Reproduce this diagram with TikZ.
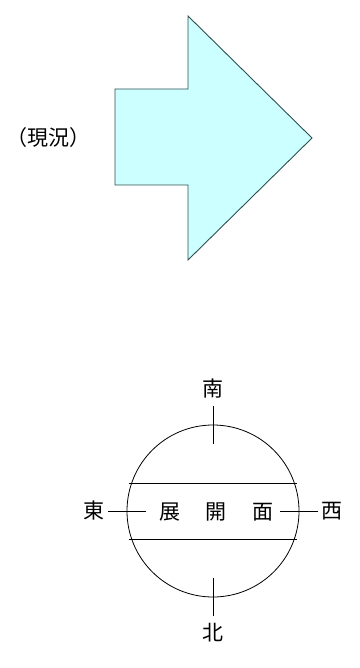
\documentclass[tikz,border=0pt]{standalone}
\usepackage{fontspec}
\newfontfamily\cjk{Noto Sans CJK JP}
\definecolor{arrowfill}{HTML}{CCFFFF}
\definecolor{arrowline}{HTML}{2F4F4F}
\begin{document}
\begin{tikzpicture}[x=1pt,y=-1pt,
  lbl/.style={font=\cjk\fontsize{21}{21}\selectfont, inner sep=0pt},
  ln/.style={draw=black, line width=0.8pt}]
\useasboundingbox (0,0) rectangle (359,668);
% arrow
\draw[fill=arrowfill, draw=arrowline, line width=0.9pt]
  (115,89) -- (188,89) -- (188,16) -- (312,138) -- (188,260) -- (188,185) -- (115,185) -- cycle;
\node[lbl] (now) at (48,138) {（現況）};
% circle
\coordinate (c) at (213,511);
\draw[ln] (c) circle (86);
\draw[ln] (129,483) -- (297,483);
\draw[ln] (129,539) -- (297,539);
\node[lbl] (s) at (213,389) {南};
\node[lbl] (n) at (213,633) {北};
\node[lbl] (e) at (94,511) {東};
\node[lbl] (w) at (332,511) {西};
\node[lbl] (t1) at (170,512) {展};
\node[lbl] (t2) at (216,512) {開};
\node[lbl] (t3) at (263,512) {面};
\coordinate (s1) at (213,406); \coordinate (s2) at (213,444);
\coordinate (n1) at (213,578); \coordinate (n2) at (213,616);
\coordinate (e1) at (108,511); \coordinate (e2) at (146,511);
\coordinate (w1) at (280,511); \coordinate (w2) at (318,511);
\draw[ln] (s1) -- (s2);
\draw[ln] (n1) -- (n2);
\draw[ln] (e1) -- (e2);
\draw[ln] (w1) -- (w2);
\end{tikzpicture}
\end{document}
